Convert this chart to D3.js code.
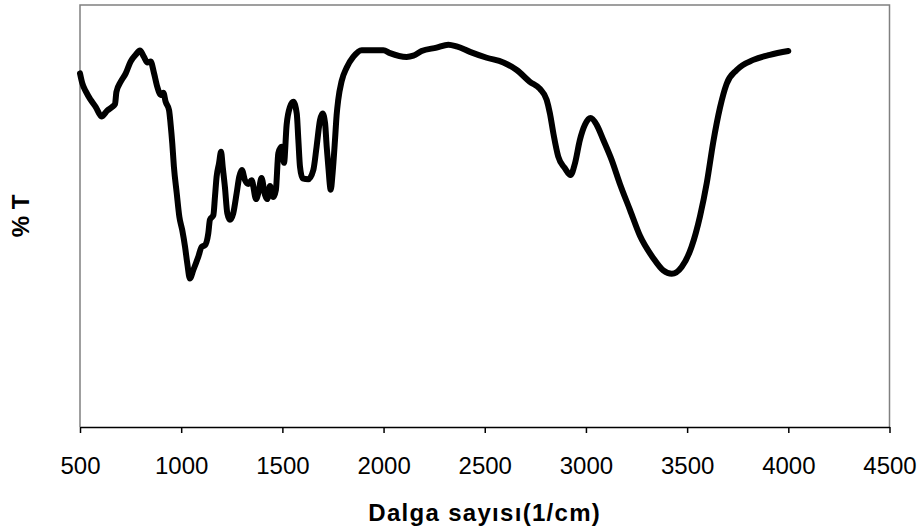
<!DOCTYPE html>
<html>
<head>
<meta charset="utf-8">
<script src="https://cdn.jsdelivr.net/npm/d3@7"></script>
<style>
  html, body { margin: 0; padding: 0; background: #fff; }
  svg { display: block; font-family: "Liberation Sans", Arial, sans-serif; }
</style>
</head>
<body>
<svg id="chart" width="922" height="532"></svg>
<script>
// IR spectrum: wavenumber (1/cm) against transmittance (%T)
const wavenumber = [
  500, 511, 530, 553, 578, 606, 635, 660, 673, 680, 701, 726, 750, 775, 796, 816, 833, 849, 866, 882,
  899, 912, 923, 940, 948, 956, 964, 978, 991, 1005, 1019, 1030, 1043, 1060, 1085, 1101, 1118, 1134, 1142, 1159,
  1167, 1175, 1187, 1197, 1205, 1216, 1228, 1241, 1257, 1274, 1287, 1300, 1315, 1332, 1348, 1370, 1381, 1397, 1414, 1425,
  1439, 1455, 1468, 1480, 1496, 1508, 1521, 1538, 1554, 1571, 1579, 1587, 1600, 1628, 1653, 1669, 1686, 1699, 1711, 1719,
  1727, 1739, 1748, 1760, 1768, 1776, 1793, 1818, 1850, 1892, 1999, 2032, 2114, 2147, 2188, 2262, 2320, 2361, 2427, 2510,
  2592, 2658, 2723, 2773, 2806, 2822, 2839, 2863, 2896, 2924, 2946, 2970, 2995, 3023, 3053, 3086, 3127, 3168, 3218, 3267,
  3333, 3382, 3424, 3473, 3522, 3564, 3597, 3629, 3662, 3695, 3745, 3827, 3909, 4000
];
const transmittance = [
  83.8, 81.5, 79.4, 77.5, 75.8, 73.6, 75.0, 75.9, 76.5, 79.4, 81.8, 83.8, 86.6, 88.2, 89.2, 87.7, 86.4, 86.6, 83.8, 80.6,
  78.7, 79.2, 77.1, 75.1, 71.6, 67.2, 61.7, 55.4, 49.8, 46.7, 42.7, 38.8, 35.2, 37.2, 40.4, 42.7, 43.1, 45.9, 49.1, 50.2,
  54.6, 59.3, 62.5, 65.2, 61.7, 56.9, 50.6, 49.1, 50.6, 55.4, 59.3, 60.9, 58.5, 57.6, 58.5, 54.0, 55.4, 59.0, 55.0, 54.0,
  57.1, 54.5, 56.2, 64.9, 66.4, 62.6, 71.6, 75.9, 77.1, 74.3, 68.0, 61.7, 58.9, 58.7, 60.9, 66.4, 72.7, 74.3, 72.0, 66.4,
  61.7, 56.2, 60.1, 68.0, 73.9, 77.5, 82.0, 85.2, 87.7, 89.3, 89.3, 88.6, 87.7, 88.0, 89.1, 89.9, 90.6, 90.2, 88.9, 87.5,
  86.4, 84.6, 81.8, 80.1, 77.5, 74.3, 69.6, 64.1, 61.3, 59.7, 62.5, 68.0, 71.6, 73.2, 71.6, 68.0, 63.3, 57.6, 51.4, 45.3,
  40.0, 37.1, 36.3, 37.9, 42.7, 50.0, 57.8, 67.5, 75.6, 81.3, 84.6, 87.0, 88.2, 89.1
];
const xTicks = [500, 1000, 1500, 2000, 2500, 3000, 3500, 4000, 4500];
const xTitle = "Dalga sayısı(1/cm)";
const yTitle = "% T";

const svg = d3.select("#chart");
const plot = { left: 80, right: 889.5, top: 5, bottom: 427 };

const x = d3.scaleLinear().domain([500, 4500]).range([plot.left, plot.right]);
const y = d3.scaleLinear().domain([0, 100]).range([plot.bottom, plot.top]);

// frame: grey on top, left and right
svg.append("path")
  .attr("d", `M${plot.left},${plot.bottom}V${plot.top}H${plot.right}V${plot.bottom}`)
  .attr("fill", "none")
  .attr("stroke", "#808080")
  .attr("stroke-width", 1.5);

// x axis
const xAxis = svg.append("g")
  .attr("transform", `translate(0,${plot.bottom})`)
  .call(d3.axisBottom(x).tickValues(xTicks).tickSize(6).tickSizeOuter(0).tickPadding(24)
    .tickFormat(d3.format("d")));
xAxis.select(".domain").attr("stroke", "#000").attr("stroke-width", 1.5);
xAxis.selectAll(".tick line").attr("stroke", "#000").attr("stroke-width", 1.5);
xAxis.selectAll(".tick text")
  .attr("fill", "#000")
  .style("font-size", "24px")
  .style("font-family", "'Liberation Sans', Arial, sans-serif");

// spectrum curve
const data = wavenumber.map((w, i) => ({ w, t: transmittance[i] }));
svg.append("path")
  .datum(data)
  .attr("fill", "none")
  .attr("stroke", "#000")
  .attr("stroke-width", 6)
  .attr("stroke-linejoin", "round")
  .attr("stroke-linecap", "round")
  .attr("d", d3.line().x(d => x(d.w)).y(d => y(d.t)).curve(d3.curveMonotoneX));

// axis titles
svg.append("text")
  .attr("x", (plot.left + plot.right) / 2)
  .attr("y", 521)
  .attr("text-anchor", "middle")
  .style("font-size", "24px")
  .style("font-weight", "bold")
  .style("letter-spacing", "1.3px")
  .text(xTitle);

svg.append("text")
  .attr("transform", `translate(29,${(plot.top + plot.bottom) / 2}) rotate(-90)`)
  .attr("text-anchor", "middle")
  .style("font-size", "24px")
  .style("font-weight", "bold")
  .text(yTitle);
</script>
</body>
</html>
